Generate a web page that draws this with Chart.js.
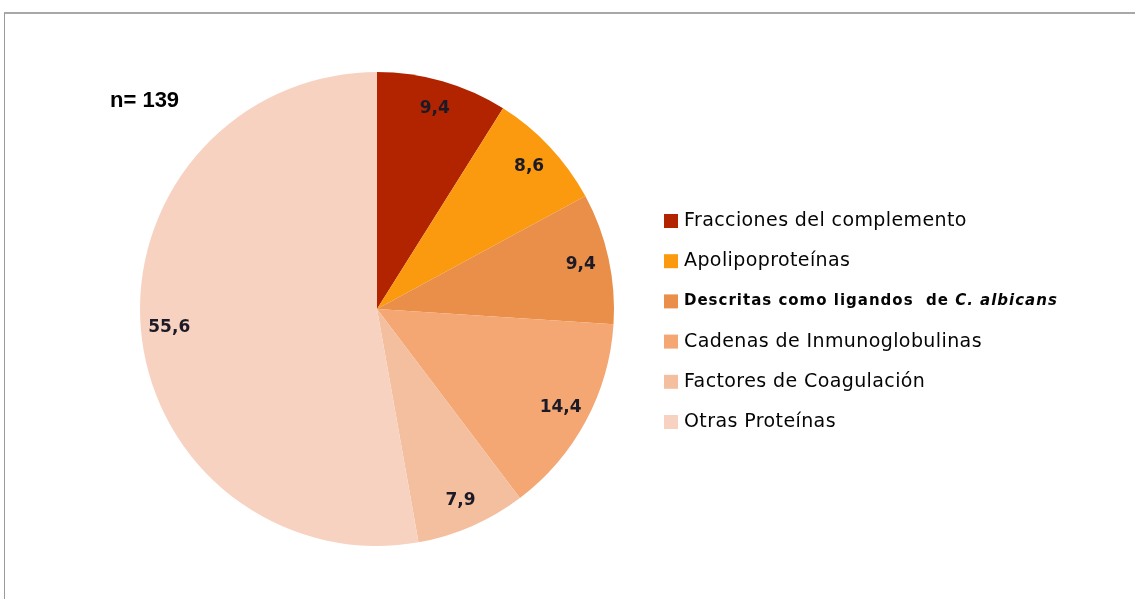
<!DOCTYPE html>
<html>
<head>
<meta charset="utf-8">
<script src="https://cdn.jsdelivr.net/npm/chart.js@4.4.1/dist/chart.umd.min.js"></script>
<style>
  html, body { margin: 0; padding: 0; background: #ffffff; overflow: hidden; }
  #wrap { position: relative; width: 1135px; height: 599px; overflow: hidden; }
  #frame {
    position: absolute; left: 4px; top: 12px; width: 1400px; height: 800px;
    border-left: 1px solid #9a9a9a; border-top: 2px solid #a8a8a8;
    box-sizing: border-box;
  }
  canvas { position: absolute; left: 0; top: 0; }
</style>
</head>
<body>
<div id="wrap">
  <div id="frame"></div>
  <canvas id="chart" width="1135" height="599"></canvas>
</div>
<script>
// Protein classes identified (percent of n = 139)
const categories = [
  'Fracciones del complemento',
  'Apolipoproteínas',
  'Descritas como ligandos  de C. albicans',
  'Cadenas de Inmunoglobulinas',
  'Factores de Coagulación',
  'Otras Proteínas'
];
const values = [9.4, 8.6, 9.4, 14.4, 7.9, 55.6];
const valueLabels = ['9,4', '8,6', '9,4', '14,4', '7,9', '55,6'];
const sampleLabel = 'n= 139';
const italicTerm = 'C. albicans';

const colors = ['#b22400', '#fb9a0e', '#e98f49', '#f4a673', '#f4bf9f', '#f8d2c1'];

// Percent labels inside each slice, placed along the slice's mid angle
const sliceLabels = {
  id: 'sliceLabels',
  afterDatasetsDraw(chart) {
    const ctx = chart.ctx;
    const meta = chart.getDatasetMeta(0);
    ctx.save();
    ctx.font = 'bold 17px "DejaVu Sans"';
    ctx.fillStyle = '#1c1a26';
    ctx.textAlign = 'center';
    ctx.textBaseline = 'middle';
    meta.data.forEach((arc, i) => {
      const p = arc.getProps(['x', 'y', 'startAngle', 'endAngle', 'outerRadius'], true);
      const a = (p.startAngle + p.endAngle) / 2;
      const r = p.outerRadius * 0.88;
      ctx.fillText(valueLabels[i], p.x + Math.cos(a) * r, p.y + Math.sin(a) * r);
    });
    ctx.restore();
  }
};

// Legend with square swatches; the species name is set in italics
const sideLegend = {
  id: 'sideLegend',
  afterDraw(chart) {
    const ctx = chart.ctx;
    const ds = chart.data.datasets[0];
    const x0 = 664, y0 = 221, step = 40.2, box = 14;
    ctx.save();
    ctx.textBaseline = 'middle';
    chart.data.labels.forEach((label, i) => {
      const y = y0 + i * step;
      ctx.fillStyle = ds.backgroundColor[i];
      ctx.fillRect(x0, y - box / 2, box, box);
      ctx.fillStyle = '#050505';
      let x = x0 + box + 6;
      const k = label.indexOf(italicTerm);
      if (k >= 0) {
        ctx.letterSpacing = '1px';
        const plain = label.slice(0, k);
        ctx.font = 'bold 15px "DejaVu Sans"';
        ctx.fillText(plain, x, y);
        x += ctx.measureText(plain).width;
        ctx.font = 'italic bold 15px "DejaVu Sans"';
        ctx.fillText(italicTerm, x, y);
      } else {
        ctx.letterSpacing = '0.4px';
        ctx.font = '19px "DejaVu Sans"';
        ctx.fillText(label, x, y);
      }
    });
    ctx.letterSpacing = '0px';
    ctx.font = 'bold 22px "Liberation Sans"';
    ctx.fillStyle = '#000000';
    ctx.textBaseline = 'alphabetic';
    ctx.fillText(sampleLabel, 110, 107);
    ctx.restore();
  }
};

new Chart(document.getElementById('chart'), {
  type: 'pie',
  data: {
    labels: categories,
    datasets: [{
      data: values,
      backgroundColor: colors,
      borderWidth: 0
    }]
  },
  options: {
    responsive: false,
    animation: false,
    layout: { padding: { left: 140, right: 521, top: 72, bottom: 53 } },
    plugins: {
      legend: { display: false },
      tooltip: { enabled: false }
    }
  },
  plugins: [sliceLabels, sideLegend]
});
</script>
</body>
</html>
